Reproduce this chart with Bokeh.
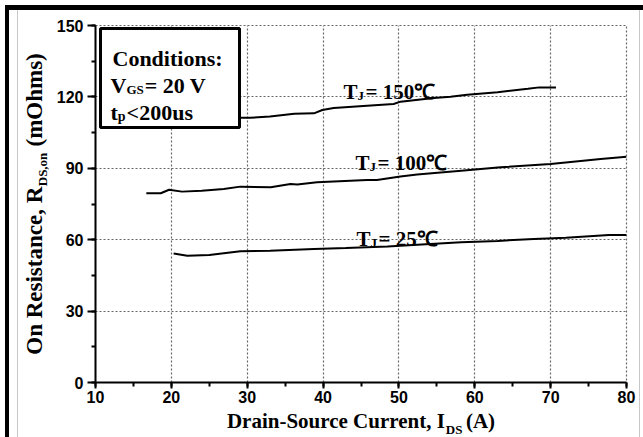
import math
from bokeh.plotting import figure
from bokeh.models import Range1d, SingleIntervalTicker, BoxAnnotation, Label, InlineStyleSheet
from bokeh.embed import file_html
from bokeh.resources import INLINE

# ---------------- data ----------------
i_150 = [17, 20, 25, 29, 30.4, 33, 36.2, 38.8, 39.9, 41.4, 45.8, 49.3, 50.2, 54.6, 56.8, 59.0, 63, 67, 68.5, 70.7]
r_150 = [110.5, 110.8, 111.0, 111.2, 111.2, 111.8, 112.9, 113.1, 114.5, 115.3, 116.3, 117.0, 118.0, 119.5, 120.1, 120.9, 122.0, 123.4, 124.0, 124.0]

i_100 = [16.7, 18.6, 19.7, 21.4, 24, 26.9, 29.1, 33.1, 35.7, 36.6, 39.2, 45.8, 47.1, 50.2, 52.4, 58.2, 63.4, 70, 76.6, 80]
r_100 = [79.5, 79.5, 81.0, 80.2, 80.6, 81.3, 82.3, 82.0, 83.4, 83.2, 84.1, 85.1, 85.1, 86.6, 87.4, 89.0, 90.4, 91.8, 93.9, 94.9]

i_25 = [20.3, 22.1, 25, 29.1, 33, 38.8, 43, 48.5, 53, 58.2, 63, 67.8, 72, 77.7, 80]
r_25 = [54.2, 53.3, 53.6, 55.1, 55.4, 56.1, 56.5, 57.1, 58.0, 58.9, 59.5, 60.3, 60.8, 62.0, 62.0]

x_ticks = [10, 20, 30, 40, 50, 60, 70, 80]
y_ticks = [0, 30, 60, 90, 120, 150]

x_title = ("Drain-Source Current, I", "DS", "(A)")
y_title = ("On Resistance, R", "DS,on", "(mOhms)")

# ---------------- layout ----------------
W, H = 643, 437
FL, FR, FT, FB = 95, 626, 25, 382          # frame edges in pixels
XMIN, XMAX, YMIN, YMAX = 10, 80, 0, 150

def X(px):
    return XMIN + (px - FL) * (XMAX - XMIN) / (FR - FL)

def Y(py):
    return YMIN + (FB - py) * (YMAX - YMIN) / (FB - FT)

SERIF = "Liberation Serif"
SANS = "Liberation Sans"
NB = "\u00a0"

# Times-bold advance widths (per 1000 em)
CW = {' ': 250, NB: 250, '(': 333, ')': 333, ',': 250, '-': 333, ':': 333, '<': 570, '=': 570,
      'A': 722, 'C': 722, 'D': 722, 'G': 778, 'I': 389, 'J': 500, 'O': 778, 'R': 722,
      'S': 556, 'T': 667, 'V': 722, 'a': 500, 'c': 444, 'd': 556, 'e': 444, 'h': 556,
      'i': 278, 'm': 833, 'n': 556, 'o': 500, 'p': 556, 'r': 444, 's': 389, 't': 333, 'u': 556}

def tw(s, size):
    return sum(CW.get(c, 500) for c in s) * size / 1000.0

p = figure(width=W, height=H, output_backend="svg", toolbar_location=None,
           x_range=Range1d(XMIN, XMAX), y_range=Range1d(YMIN, YMAX),
           min_border_left=FL, min_border_right=W - FR,
           min_border_top=FT, min_border_bottom=H - FB)
p.background_fill_color = "white"
p.border_fill_color = "white"
p.outline_line_color = "#666666"
p.outline_line_dash = "2 2"
p.outline_line_width = 1.2

xt = SingleIntervalTicker(interval=x_ticks[1] - x_ticks[0], num_minor_ticks=2)
yt = SingleIntervalTicker(interval=y_ticks[1] - y_ticks[0], num_minor_ticks=2)
p.xaxis.ticker = xt
p.yaxis.ticker = yt
p.xgrid.ticker = xt
p.ygrid.ticker = yt

for ax in (p.xaxis, p.yaxis):
    ax.axis_line_width = 2
    ax.axis_line_color = "black"
    ax.major_tick_line_width = 2
    ax.minor_tick_line_width = 2
    ax.major_tick_line_color = "black"
    ax.minor_tick_line_color = "black"
    ax.major_tick_in = 0
    ax.minor_tick_in = 0
    ax.major_label_text_font = SANS
    ax.major_label_text_font_style = "bold"
    ax.major_label_text_font_size = "16px"
    ax.major_label_text_color = "black"
    ax.axis_label_text_font = SERIF
    ax.axis_label_text_font_style = "bold"
    ax.axis_label_text_color = "black"
p.xaxis.major_tick_out = 6
p.xaxis.minor_tick_out = 4
p.yaxis.major_tick_out = 8
p.yaxis.minor_tick_out = 4
p.xaxis.major_label_standoff = 2
p.yaxis.major_label_standoff = 4

# axis titles: main text by the axis, subscripts as labels
XS, YS = 21, 23
XG, YG = 4, 7   # non-breaking gaps that leave room for the subscripts
p.xaxis.axis_label = x_title[0] + NB * XG + x_title[2]
p.xaxis.axis_label_text_font_size = f"{XS}px"
p.xaxis.axis_label_standoff = 3
p.yaxis.axis_label = y_title[0] + NB * YG + y_title[2]
p.yaxis.axis_label_text_font_size = f"{YS}px"
p.yaxis.axis_label_standoff = 7

p.xgrid.grid_line_color = "#666666"
p.ygrid.grid_line_color = "#666666"
p.xgrid.grid_line_dash = "2 2"
p.ygrid.grid_line_dash = "2 2"
p.xgrid.grid_line_width = 1.2
p.ygrid.grid_line_width = 1.2

# curves
for xs, ys in ((i_150, r_150), (i_100, r_100), (i_25, r_25)):
    p.line(xs, ys, line_color="black", line_width=2)

def put(text, px, py, size, font=SERIF, angle=0.0, place="center"):
    lab = Label(x=X(px), y=Y(py), text=text, text_font=font, text_font_style="bold",
                text_font_size=f"{size}px", text_color="black",
                text_baseline="alphabetic", text_align="left", angle=angle)
    if place == "center":
        p.add_layout(lab)
    else:
        p.add_layout(lab, place)

# conditions box
p.add_layout(BoxAnnotation(left=X(100), right=X(239), top=Y(28), bottom=Y(127),
                           fill_color="white", fill_alpha=1.0,
                           line_color="black", line_width=3, line_alpha=1.0))
put("Conditions:", 112, 58, 22)
put("V", 110, 85, 22)
put("GS", 110 + tw("V", 22), 89, 13)
put("= 20 V", 110 + tw("V", 22) + tw("GS", 13) + 1, 85, 22)
put("t", 110, 112, 22)
put("p", 110 + tw("t", 22), 116, 14)
put("<200us", 110 + tw("t", 22) + tw("p", 14) + 1, 112, 22)

# temperature labels
for txt, px, py in (("= 150\u2103", 343, 91), ("= 100\u2103", 355, 162), ("= 25\u2103", 356, 238)):
    put("T", px, py, 21)
    put("J", px + tw("T", 21), py + 4, 13)
    put(txt, px + 22, py, 21)

# subscripts of the axis titles (side panels so they are not clipped to the frame)
x_full = tw(p.xaxis.axis_label, XS)
sx = (FL + FR) / 2 - x_full / 2 + tw(x_title[0], XS) + 0.5
put(x_title[1], sx, 429, 13, place="above")

y_full = tw(p.yaxis.axis_label, YS)
sy = (FT + FB) / 2 + y_full / 2 - tw(y_title[0], YS) - 0.5
put(y_title[1], 42, sy, 13, angle=math.pi / 2, place="right")

# outer frame of the picture (page decoration)
css = """
:host { position: relative; }
:host::before { content: ""; position: absolute; left: 17px; top: 10px; width: 621px; bottom: 0px;
  border-left: 1px solid #c8c8c8; border-right: 1px solid #c8c8c8; pointer-events: none; z-index: 20; }
:host::after { content: ""; position: absolute; left: 5px; top: 5px; right: 0px; bottom: 0px;
  border-top: 5px solid black; border-left: 4px solid black; pointer-events: none; z-index: 21; }
"""
p.stylesheets = [InlineStyleSheet(css=css)]

open("out.html", "w").write(file_html(p, INLINE))
